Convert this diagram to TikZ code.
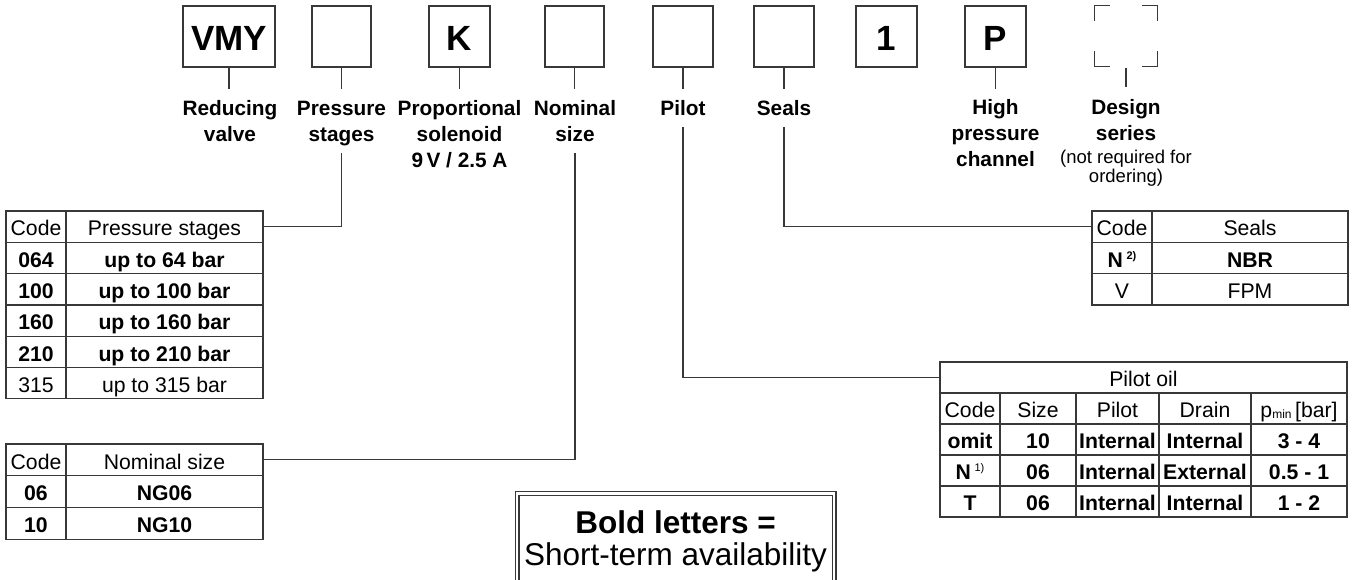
\documentclass[tikz,border=0pt]{standalone}
\usepackage{fontspec}
\setmainfont{Liberation Sans}
\newcommand{\supnote}[1]{\,\raisebox{8pt}{\fontsize{11}{11}\selectfont #1}}
\begin{document}
\begin{tikzpicture}[x=1pt,y=-1pt,
  line/.style={draw=black!78, line width=1.2pt},
  codebox/.style={draw=black!78, line width=1.2pt, minimum height=61pt, inner sep=0pt,
     text height=30pt, text depth=1.4pt, font=\fontsize{35}{40}\selectfont\bfseries},
  lab/.style={align=center, font=\fontsize{20.8}{26}\selectfont\bfseries, inner sep=0pt, anchor=base},
  cell/.style={draw=black!78, line width=1.2pt, inner sep=0pt, text height=20pt, text depth=1.4pt,
     font=\fontsize{21.2}{24}\selectfont},
  bcell/.style={cell, font=\fontsize{21.2}{24}\selectfont\bfseries},
  ra/.style={minimum height=31.3pt},
  rb/.style={minimum height=31.7pt},
  rc/.style={minimum height=31pt},
]
\path[use as bounding box, clip] (0,0) rectangle (1354,580);

% ---- top code boxes
\node[codebox, minimum width=92pt] (b1) at (229,36.5) {VMY};
\node[codebox, minimum width=59pt] (b2) at (341.5,36.5) {};
\node[codebox, minimum width=61pt] (b3) at (459.5,36.5) {K};
\node[codebox, minimum width=59pt] (b4) at (574.5,36.5) {};
\node[codebox, minimum width=60pt] (b5) at (683,36.5) {};
\node[codebox, minimum width=60pt] (b6) at (784,36.5) {};
\node[codebox, minimum width=61pt] (b7) at (886.5,36.5) {1};
\node[codebox, minimum width=61pt] (b8) at (995.5,36.5) {P};
\node[minimum width=62pt, minimum height=60pt, inner sep=0pt] (b9) at (1126,36) {};
\draw[line] ([yshift=-15pt]b9.north west) -- (b9.north west) -- ++(15,0);
\draw[line] ([yshift=-15pt]b9.north east) -- (b9.north east) -- ++(-15,0);
\draw[line] ([yshift=15pt]b9.south west) -- (b9.south west) -- ++(15,0);
\draw[line] ([yshift=15pt]b9.south east) -- (b9.south east) -- ++(-15,0);

% ---- ticks
\foreach \b in {b1,b2,b3,b4,b5,b6,b8}{\draw[line] (\b.south) -- ++(0,21);}
\draw[line] ([yshift=-2pt]b9.south) -- ++(0,19);

% ---- labels (base = baseline of last line)
\node[lab] (l1) at (230,142) {Reducing\\valve};
\node[lab] (l2) at (341.5,142) {Pressure\\stages};
\node[lab] (l3) at (459.5,168) {Proportional\\solenoid\\9\,V / 2.5 A};
\node[lab] (l4) at (575,142) {Nominal\\size};
\node[lab] (l5) at (683,116) {Pilot};
\node[lab] (l6) at (784,116) {Seals};
\node[lab] (l8) at (995.5,167) {High\\pressure\\channel};
\node[lab] (l9) at (1126,141) {Design\\series};
\node[align=center, inner sep=0pt, anchor=base, font=\fontsize{18.5}{19.5}\selectfont] (l9b) at (1126,183) {(not required for\\ordering)};

% ---- pressure stages table
\node[cell, ra, minimum width=60pt] (psH1) at (36,226.65) {Code};
\node[cell, ra, minimum width=197pt] (psH2) at (164.5,226.65) {Pressure stages};
\node[bcell, ra, minimum width=60pt] (ps11) at (36,257.95) {064};
\node[bcell, ra, minimum width=197pt] (ps12) at (164.5,257.95) {up to 64 bar};
\node[bcell, ra, minimum width=60pt] (ps21) at (36,289.25) {100};
\node[bcell, ra, minimum width=197pt] (ps22) at (164.5,289.25) {up to 100 bar};
\node[bcell, ra, minimum width=60pt] (ps31) at (36,320.55) {160};
\node[bcell, ra, minimum width=197pt] (ps32) at (164.5,320.55) {up to 160 bar};
\node[bcell, ra, minimum width=60pt] (ps41) at (36,351.85) {210};
\node[bcell, ra, minimum width=197pt] (ps42) at (164.5,351.85) {up to 210 bar};
\node[cell, ra, minimum width=60pt] (ps51) at (36,383.15) {315};
\node[cell, ra, minimum width=197pt] (ps52) at (164.5,383.15) {up to 315 bar};

% ---- nominal size table
\node[cell, rb, minimum width=60pt] (nsH1) at (36,459.85) {Code};
\node[cell, rb, minimum width=197pt] (nsH2) at (164.5,459.85) {Nominal size};
\node[bcell, rb, minimum width=60pt] (ns11) at (36,491.55) {06};
\node[bcell, rb, minimum width=197pt] (ns12) at (164.5,491.55) {NG06};
\node[bcell, rb, minimum width=60pt] (ns21) at (36,523.25) {10};
\node[bcell, rb, minimum width=197pt] (ns22) at (164.5,523.25) {NG10};

% ---- seals table
\node[cell, ra, minimum width=60pt] (slH1) at (1122,226.65) {Code};
\node[cell, ra, minimum width=196pt] (slH2) at (1250,226.65) {Seals};
\node[bcell, ra, minimum width=60pt] (sl11) at (1122,257.95) {N\supnote{2)}};
\node[bcell, ra, minimum width=196pt] (sl12) at (1250,257.95) {NBR};
\node[cell, ra, minimum width=60pt] (sl21) at (1122,289.25) {V};
\node[cell, ra, minimum width=196pt] (sl22) at (1250,289.25) {FPM};

% ---- pilot oil table
\node[cell, rc, minimum width=407pt] (plH) at (1143.5,377.5) {Pilot oil};
\node[cell, rc, minimum width=60pt] (plh1) at (970,408.5) {Code};
\node[cell, rc, minimum width=76pt] (plh2) at (1038,408.5) {Size};
\node[cell, rc, minimum width=83pt] (plh3) at (1117.5,408.5) {Pilot};
\node[cell, rc, minimum width=92pt] (plh4) at (1205,408.5) {Drain};
\node[cell, rc, minimum width=96pt] (plh5) at (1299,408.5) {p\raisebox{-1pt}{\fontsize{12}{12}\selectfont min}\,[bar]};
\node[bcell, rc, minimum width=60pt] (pl11) at (970,439.5) {omit};
\node[bcell, rc, minimum width=76pt] (pl12) at (1038,439.5) {10};
\node[bcell, rc, minimum width=83pt] (pl13) at (1117.5,439.5) {Internal};
\node[bcell, rc, minimum width=92pt] (pl14) at (1205,439.5) {Internal};
\node[bcell, rc, minimum width=96pt] (pl15) at (1299,439.5) {3 - 4};
\node[bcell, rc, minimum width=60pt] (pl21) at (970,470.5) {N\supnote{\mdseries 1)}};
\node[bcell, rc, minimum width=76pt] (pl22) at (1038,470.5) {06};
\node[bcell, rc, minimum width=83pt] (pl23) at (1117.5,470.5) {Internal};
\node[bcell, rc, minimum width=92pt] (pl24) at (1205,470.5) {External};
\node[bcell, rc, minimum width=96pt] (pl25) at (1299,470.5) {0.5 - 1};
\node[bcell, rc, minimum width=60pt] (pl31) at (970,501.5) {T};
\node[bcell, rc, minimum width=76pt] (pl32) at (1038,501.5) {06};
\node[bcell, rc, minimum width=83pt] (pl33) at (1117.5,501.5) {Internal};
\node[bcell, rc, minimum width=92pt] (pl34) at (1205,501.5) {Internal};
\node[bcell, rc, minimum width=96pt] (pl35) at (1299,501.5) {1 - 2};

% ---- connectors
\coordinate (psTop) at (341.5,153);
\coordinate (nsTop) at (575,153);
\coordinate (plTop) at (683,127);
\coordinate (slTop) at (784,127);
\draw[line] (psTop) |- (psH2.east);
\draw[line] (nsTop) |- (nsH2.east);
\draw[line] (plTop) |- (plH.west);
\draw[line] (slTop) |- (slH1.west);

% ---- legend box
\node[draw=black!78, line width=1.1pt, double, double distance=2.8pt, minimum width=317pt, minimum height=130pt, inner sep=0pt] (frame) at (675.5,558.5) {};
\node[anchor=base, inner sep=0pt, font=\fontsize{31.5}{34}\selectfont\bfseries] (bl1) at (675.5,533) {Bold letters =};
\node[anchor=base, inner sep=0pt, font=\fontsize{31.5}{34}\selectfont] (bl2) at (675.5,565) {Short-term availability};
\end{tikzpicture}
\end{document}
